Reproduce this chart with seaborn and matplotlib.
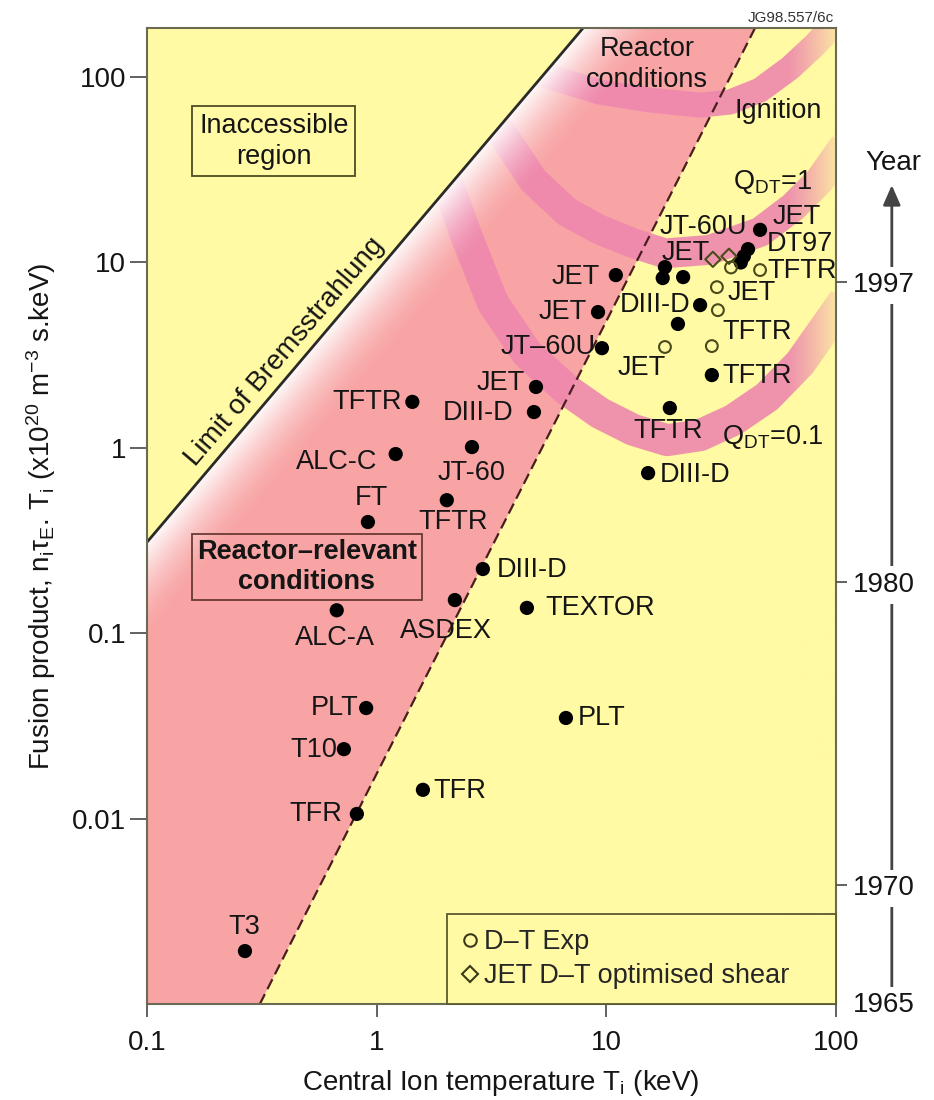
import numpy as np
import matplotlib
matplotlib.use("Agg")
import matplotlib.pyplot as plt
import seaborn as sns
from matplotlib.lines import Line2D
from matplotlib.patches import Polygon
from matplotlib.ticker import NullLocator

# values: T in keV, fusion product in 1e20 m^-3 s keV
brems_T = [0.1, 8.1]
brems_nT = [0.31, 190]
dash_T = [0.31, 45]
dash_nT = [0.001, 190]

# centre lines of the Q bands
ign_T = [4.21, 5.30, 9.38, 15.5, 25.6, 34.5, 46.7, 63.1, 80.9, 104]
ign_nT = [112, 102.6, 83.0, 75.2, 70.6, 73.3, 85.1, 112, 149, 208]
q1_T = [2.96, 3.44, 4.80, 6.75, 9.38, 13.1, 18.0, 28.2, 46.7, 65.0, 85.1, 109]
q1_nT = [70.6, 51.8, 27.8, 18.7, 15.0, 12.7, 11.2, 11.7, 14.6, 19.9, 27.8, 43.0]
q01_T = [1.89, 2.08, 2.47, 3.21, 4.51, 6.75, 9.38, 13.1, 18.4, 25.6, 35.6, 50.1, 69.7, 109]
q01_nT = [33.5, 24.6, 13.7, 6.04, 3.24, 2.05, 1.54, 1.25, 1.10, 1.17, 1.41, 1.88, 2.86, 6.27]

# tokamak results
dot_T = [0.267, 0.82, 0.72, 0.90, 1.59, 6.67, 0.67, 2.19, 4.51, 2.90,
         0.916, 2.02, 1.21, 2.60, 1.43, 4.84, 4.94, 9.57, 9.20, 11.0,
         18.0, 17.6, 21.6, 25.6, 20.5, 28.8, 18.9, 15.2, 46.7, 41.4, 39.7, 38.5]
dot_nT = [0.00193, 0.0106, 0.0237, 0.0395, 0.0143, 0.0349, 0.133, 0.151, 0.137, 0.222,
          0.398, 0.522, 0.926, 1.01, 1.77, 1.56, 2.13, 3.45, 5.40, 8.55,
          9.44, 8.24, 8.34, 5.89, 4.66, 2.47, 1.64, 0.731, 15.0, 11.8, 10.8, 10.0]
dt_T = [18.0, 28.8, 30.6, 30.3, 34.9, 46.7]
dt_nT = [3.50, 3.54, 5.53, 7.36, 9.4, 9.10]
shear_T = [29.1, 34.2]
shear_nT = [10.4, 10.8]

year_labels = ["1965", "1970", "1980", "1997"]
year_nT = [0.00102, 0.00438, 0.189, 7.83]

x_ticks = [0.1, 1, 10, 100]
x_ticklabels = ["0.1", "1", "10", "100"]
y_ticks = [0.01, 0.1, 1, 10, 100]
y_ticklabels = ["0.01", "0.1", "1", "10", "100"]

# label text, point set, index, offset (px right, px down), alignment
tags = [
    ("T3", "dot", 0, -1, -24, "center"),
    ("TFR", "dot", 1, -15, 0, "right"),
    ("T10", "dot", 2, -7, 1, "right"),
    ("PLT", "dot", 3, -8, 0, "right"),
    ("TFR", "dot", 4, 10, 1, "left"),
    ("PLT", "dot", 5, 12, 0, "left"),
    ("ALC-A", "dot", 6, -2, 28, "center"),
    ("ASDEX", "dot", 7, -9, 31, "center"),
    ("TEXTOR", "dot", 8, 18, 0, "left"),
    ("DIII-D", "dot", 9, 14, 1, "left"),
    ("FT", "dot", 10, 3, -24, "center"),
    ("TFTR", "dot", 11, 6, 22, "center"),
    ("ALC-C", "dot", 12, -18, 8, "right"),
    ("JT-60", "dot", 13, 0, 26, "center"),
    ("TFTR", "dot", 14, -10, 0, "right"),
    ("DIII-D", "dot", 15, -21, 1, "right"),
    ("JET", "dot", 16, -11, -4, "right"),
    ("JT\u201360U", "dot", 17, -6, -1, "right"),
    ("JET", "dot", 18, -11, 0, "right"),
    ("JET", "dot", 19, -16, 2, "right"),
    ("DIII-D", "dot", 23, -10, 0, "right"),
    ("TFTR", "dot", 25, 11, 1, "left"),
    ("TFTR", "dot", 26, -2, 23, "center"),
    ("DIII-D", "dot", 27, 12, 2, "left"),
    ("JT-60U", "dot", 28, -13, -3, "right"),
    ("JET", "dot", 28, 13, -13, "left"),
    ("DT97", "dot", 29, 19, -5, "left"),
    ("JET", "shear", 0, -3, -6, "right"),
    ("TFTR", "dt", 5, 7, 1, "left"),
    ("JET", "dt", 3, 11, 6, "left"),
    ("TFTR", "dt", 1, 11, -14, "left"),
    ("JET", "dt", 0, -23, 21, "center"),
]

yellow = "#FFFAA3"
pink = "#F8A4A4"
band_col = "#EE88AE"
ink = "#151515"

sns.set_style("ticks")
plt.rcParams["font.family"] = ["Liberation Sans", "DejaVu Sans"]
plt.rcParams["mathtext.fontset"] = "custom"
plt.rcParams["mathtext.rm"] = "Liberation Sans"
plt.rcParams["mathtext.it"] = "Liberation Sans:italic"
plt.rcParams["mathtext.default"] = "regular"

fig = plt.figure(figsize=(9.34, 11), dpi=100)
ax = fig.add_axes([147 / 934, 1 - 1004 / 1100, 689 / 934, 976 / 1100])
ax.set_xscale("log")
ax.set_yscale("log")
ax.set_xlim(0.1, 100)
ax.set_ylim(0.001, 184)
ax.set_facecolor(yellow)

# reactor-relevant wedge between the two boundaries
pink_T = [brems_T[0]] + brems_T + dash_T[::-1]
pink_nT = [dash_nT[0]] + brems_nT + dash_nT[::-1]
wedge = ax.fill(pink_T, pink_nT, color=pink, lw=0, zorder=1)[0]

# Q bands, only on the accessible side of the bremsstrahlung limit
right_side = Polygon(list(zip(brems_T + [300, 300, brems_T[0]],
                              brems_nT + [brems_nT[1], 1e-4, 1e-4])),
                     transform=ax.transData)
for bt, bn, w in [(q01_T, q01_nT, 23), (q1_T, q1_nT, 21.5), (ign_T, ign_nT, 18)]:
    ln, = ax.plot(bt, bn, color=band_col, lw=w, alpha=0.9,
                  solid_joinstyle="round", solid_capstyle="butt", zorder=1.5)
    ln.set_clip_path(right_side)

# whitish glow along the bremsstrahlung line
W, H = 689.0, 976.0
to_axes = ax.transData + ax.transAxes.inverted()
b0 = to_axes.transform((brems_T[0], brems_nT[0])) * [W, H]
b1 = to_axes.transform((brems_T[1], brems_nT[1])) * [W, H]
d = (b1 - b0) / np.hypot(*(b1 - b0))
nrm = np.array([d[1], -d[0]])
nx, ny = 420, 600
uu, vv = np.meshgrid((np.arange(nx) + 0.5) / nx * W, (np.arange(ny) + 0.5) / ny * H)
dist = (uu - b0[0]) * nrm[0] + (vv - b0[1]) * nrm[1]
glow = np.ones((ny, nx, 4))
glow[..., 3] = 0.95 * np.clip(1 - dist / 62.0, 0, 1) ** 1.6
im = ax.imshow(glow, extent=(0, 1, 0, 1), transform=ax.transAxes, origin="lower",
               aspect="auto", interpolation="bilinear", zorder=1.6)
im.set_clip_path(wedge)

# bands fade out toward the right edge
fade = np.zeros((2, nx, 4))
fade[..., :3] = matplotlib.colors.to_rgb(yellow)
fade[..., 3] = np.clip(((np.arange(nx) + 0.5) / nx * W - 640) / 49.0, 0, 1) ** 1.2 * 0.8
ax.imshow(fade, extent=(0, 1, 0, 1), transform=ax.transAxes, origin="lower",
          aspect="auto", interpolation="bilinear", zorder=1.7)

# boundaries
ax.plot(brems_T, brems_nT, color="#2a2a2a", lw=2, zorder=2)
ax.plot(dash_T, dash_nT, color="#4a1e1e", lw=1.6, ls=(0, (5, 2.5)), zorder=2)

# data points
sns.scatterplot(x=dot_T, y=dot_nT, ax=ax, color="black", s=105, edgecolor="none",
                zorder=5, legend=False)
sns.scatterplot(x=dt_T, y=dt_nT, ax=ax, marker="o", s=72, facecolor="none",
                edgecolor="#4a4a1c", linewidth=1.5, zorder=5, legend=False)
sns.scatterplot(x=shear_T, y=shear_nT, ax=ax, marker="D", s=60, facecolor="none",
                edgecolor="#4a4a1c", linewidth=1.5, zorder=5, legend=False)

sets = {"dot": (dot_T, dot_nT), "dt": (dt_T, dt_nT), "shear": (shear_T, shear_nT)}
for txt, key, i, dx, dy, ha in tags:
    xs, ys = sets[key]
    ax.annotate(txt, (xs[i], ys[i]), xytext=(dx * 0.72, -dy * 0.72),
                textcoords="offset points", ha=ha, va="center",
                fontsize=19.5, color=ink, zorder=6)

lab = dict(fontsize=19.5, color=ink, zorder=6)
ax.text(31.9, 1.14, "Q$_{DT}$=0.1", ha="left", va="center", **lab)
ax.text(35.6, 27.2, "Q$_{DT}$=1", ha="left", va="center", **lab)
ax.text(36.3, 65.6, "Ignition", ha="left", va="center", **lab)
ax.text(15.0, 117, "Reactor\nconditions", ha="center", va="center",
        linespacing=1.25, **lab)
ax.text(0.357, 45.2, "Inaccessible\nregion", ha="center", va="center",
        linespacing=1.25, bbox=dict(boxstyle="square,pad=0.25", fc="none",
                                     ec="#4e4b26", lw=1.3), **lab)
ax.text(0.497, 0.2275, "Reactor\u2013relevant\nconditions", ha="center", va="center",
        fontweight="bold", linespacing=1.2,
        bbox=dict(boxstyle="square,pad=0.2", fc="none", ec="#6a3a34", lw=1.3), **lab)
ax.text(0.399, 3.29, "Limit of Bremsstrahlung", rotation=49.5, rotation_mode="anchor",
        ha="center", va="center", fontsize=20, color=ink, zorder=6)

# axes styling
ax.set_xticks(x_ticks)
ax.set_xticklabels(x_ticklabels)
ax.set_yticks(y_ticks)
ax.set_yticklabels(y_ticklabels)
ax.xaxis.set_minor_locator(NullLocator())
ax.yaxis.set_minor_locator(NullLocator())
ax.tick_params(axis="x", length=9.5, width=1.3, color="#555555", pad=9,
               labelsize=20, labelcolor=ink)
ax.tick_params(axis="y", length=12, width=1.3, color="#555555", pad=3,
               labelsize=20, labelcolor=ink)
for s in ax.spines.values():
    s.set_color("#6a6a55")
    s.set_linewidth(1.5)
ax.set_xlabel("Central Ion temperature T$_i$ (keV)", fontsize=20, color=ink)
ax.xaxis.set_label_coords(0.514, -0.066)
ax.xaxis.label.set_va("top")
ax.set_ylabel("Fusion product, n$_i$τ$_E$. T$_i$ (x10$^{20}$ m$^{-3}$ s.keV)",
              fontsize=20, color=ink)
ax.yaxis.set_label_coords(-0.129, 0.5)

# legend box in the lower right corner
handles = [Line2D([], [], ls="none", marker="o", ms=9, mfc="none", mec="#3a3a18", mew=1.5),
           Line2D([], [], ls="none", marker="D", ms=8, mfc="none", mec="#3a3a18", mew=1.5)]
leg = ax.legend(handles, ["D\u2013T Exp", "JET D\u2013T optimised shear"],
                loc="lower left", bbox_to_anchor=(0.4354, 0, 0.5646, 0.0943),
                mode="expand", borderaxespad=0, fancybox=False, framealpha=1,
                facecolor=yellow, edgecolor="#5a5a30", handlelength=0.6,
                handletextpad=0.2, labelspacing=0.3, borderpad=0.55, fontsize=19.5)
leg.get_frame().set_linewidth(1.3)
leg.set_zorder(7)

# year scale on the right
ax.annotate("", xy=(1.081, 0.839), xytext=(1.081, 0.0), xycoords="axes fraction",
            arrowprops=dict(arrowstyle="-|>,head_length=0.8,head_width=0.35",
                            color="#444444", lw=2, shrinkA=0, shrinkB=0,
                            mutation_scale=15),
            annotation_clip=False)
ax.text(1.083, 0.862, "Year", transform=ax.transAxes, ha="center", va="center",
        fontsize=20, color=ink, clip_on=False)
ax2 = ax.twinx()
ax2.set_yscale("log")
ax2.set_ylim(ax.get_ylim())
ax2.set_yticks(year_nT)
ax2.set_yticklabels(year_labels)
ax2.yaxis.set_minor_locator(NullLocator())
for s in ax2.spines.values():
    s.set_visible(False)
ax2.tick_params(axis="y", length=10, width=1.3, color="#555555", pad=2,
                labelsize=20, labelcolor=ink)
for t in ax2.get_yticklabels():
    t.set_bbox(dict(facecolor="white", edgecolor="none", pad=4))
ax2.yaxis.get_major_ticks()[0].tick2line.set_visible(False)

fig.text(791 / 934, 1 - 18 / 1100, "JG98.557/6c", ha="center", va="center",
         fontsize=11, color="#333333")

ax.set_xlim(0.1, 100)
ax.set_ylim(0.001, 184)
fig.savefig("out.png", dpi=100, facecolor="white")
